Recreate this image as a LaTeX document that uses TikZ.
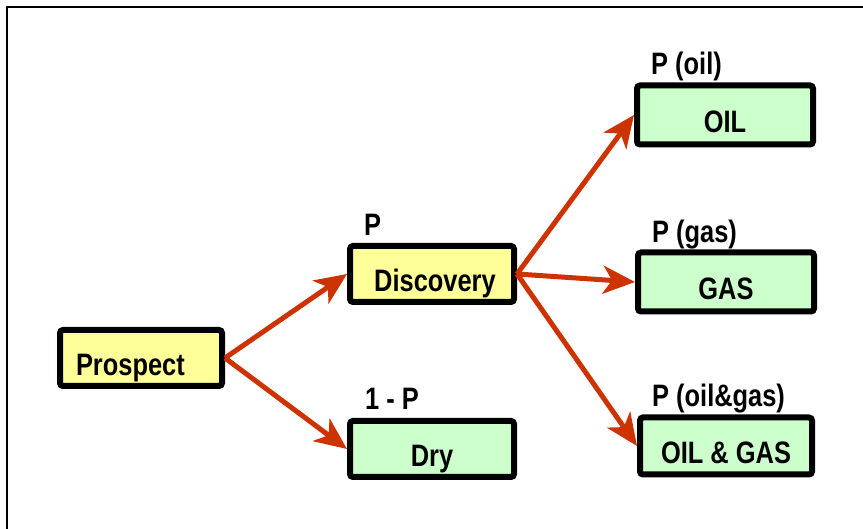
\documentclass[tikz,border=0pt]{standalone}
\usepackage{fontspec}
\setmainfont{Liberation Sans}[FakeStretch=0.82]
\usepackage{tikz}
\usetikzlibrary{arrows.meta,positioning}

\definecolor{boxyellow}{RGB}{255,255,153}
\definecolor{boxgreen}{RGB}{204,255,204}
\definecolor{arrowred}{RGB}{204,51,0}

\begin{document}
\begin{tikzpicture}[
    x=1pt, y=-1pt,
    font=\fontsize{31}{36}\selectfont\bfseries,
    box/.style={rectangle, draw, line width=6pt, rounded corners=3pt, inner sep=0pt, text height=36pt, text depth=0pt},
    startbox/.style={box, fill=boxyellow, minimum width=164pt, minimum height=56pt},
    outcome/.style={box, fill=boxgreen, minimum width=176pt, minimum height=59pt},
    problabel/.style={anchor=base west, inner sep=0pt},
    arrow/.style={-{Stealth[length=32pt, width=28pt, inset=9pt]}, line width=5pt, draw=arrowred}
]

% frame
\useasboundingbox (0,0) rectangle (863,529);
\draw[line width=2pt] (7,529) -- (7,7) -- (863,7);

% Prospect
\node[startbox, minimum width=162pt, text width=130pt, align=left, inner xsep=16pt] (prospect) at (141,358) {Prospect};

% Discovery and Dry
\node[startbox] (discovery) at (432,274) {\hspace*{6pt}Discovery};
\node[startbox, fill=boxgreen] (dry) at (432,449) {Dry};

% Outcomes
\node[outcome] (oil) at (725,115) {OIL};
\node[outcome] (gas) at (726,282) {GAS};
\node[outcome, minimum width=172pt, minimum height=57pt] (oilgas) at (726,446) {OIL \& GAS};

% Probabilities
\node[problabel] (p_disc) at ([shift={(17,-7)}]discovery.north west) {P};
\node[problabel] (p_dry) at ([shift={(18,-8)}]dry.north west) {1 - P};
\node[problabel] (p_oil) at ([shift={(17,-8)}]oil.north west) {P (oil)};
\node[problabel] (p_gas) at ([shift={(17,-7)}]gas.north west) {P (gas)};
\node[problabel] (p_oilgas) at ([shift={(15,-8)}]oilgas.north west) {P (oil\&gas)};

% Arrows
\draw[arrow] (prospect.east) -- (discovery.west);
\draw[arrow] (prospect.east) -- (dry.west);
\draw[arrow] (discovery.east) -- (oil.west);
\draw[arrow] (discovery.east) -- (gas.west);
\draw[arrow] (discovery.east) -- (oilgas.west);

\end{tikzpicture}
\end{document}
